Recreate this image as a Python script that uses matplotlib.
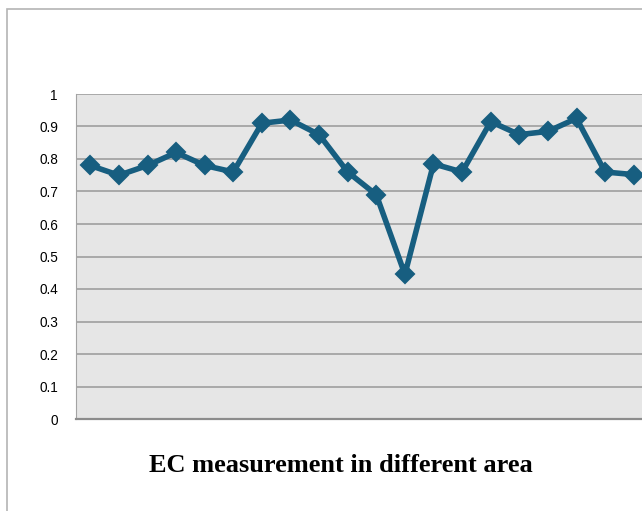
import matplotlib.pyplot as plt
from matplotlib.patches import Rectangle

# EC values (20 sampling areas)
areas = list(range(1, 21))
ec_values = [0.78, 0.75, 0.78, 0.82, 0.78, 0.76, 0.91, 0.92, 0.875, 0.76,
             0.69, 0.445, 0.785, 0.76, 0.915, 0.875, 0.885, 0.925, 0.76, 0.752]
y_ticks = [0, 0.1, 0.2, 0.3, 0.4, 0.5, 0.6, 0.7, 0.8, 0.9, 1]
y_labels = ['0', '0.1', '0.2', '0.3', '0.4', '0.5', '0.6', '0.7', '0.8', '0.9', '1']

W, H = 642, 511
fig = plt.figure(figsize=(W / 100, H / 100), dpi=100)

# outer chart border (cut off at right and bottom in the reference)
fig.patches.append(Rectangle((7 / W, -0.05), 1.2, 1 - 9 / H + 0.05,
                             transform=fig.transFigure, fill=False,
                             edgecolor='#b4b4b4', linewidth=1.2))

# plot area runs past the right edge, as in the reference
ax = fig.add_axes([76 / W, 1 - 419 / H, (648 - 76) / W, (419 - 94) / H])
ax.set_facecolor('#e6e6e6')

ax.plot(areas, ec_values, color='#175e80', linewidth=4, marker='D',
        markersize=9.2, markeredgewidth=1.5, markeredgecolor='#175e80',
        zorder=3)

ax.set_xlim(0.5, 20.5)
ax.set_ylim(0, 1)
ax.set_yticks(y_ticks)
ax.set_yticklabels(y_labels, fontsize=9.8, family='Liberation Sans')
ax.set_xticks([])
ax.tick_params(axis='y', length=0, pad=13)
ax.grid(axis='y', color='#9e9e9e', linewidth=1.2)
ax.set_axisbelow(True)

for side in ['top', 'right']:
    ax.spines[side].set_visible(False)
ax.spines['left'].set_color('#a3a3a3')
ax.spines['bottom'].set_color('#8c8c8c')
ax.spines['bottom'].set_linewidth(1.6)

fig.text(341 / W, 1 - 466 / H, 'EC measurement in different area',
         ha='center', va='center', fontsize=19, fontweight='bold',
         family='Liberation Serif')

plt.savefig('out.png', dpi=100)
